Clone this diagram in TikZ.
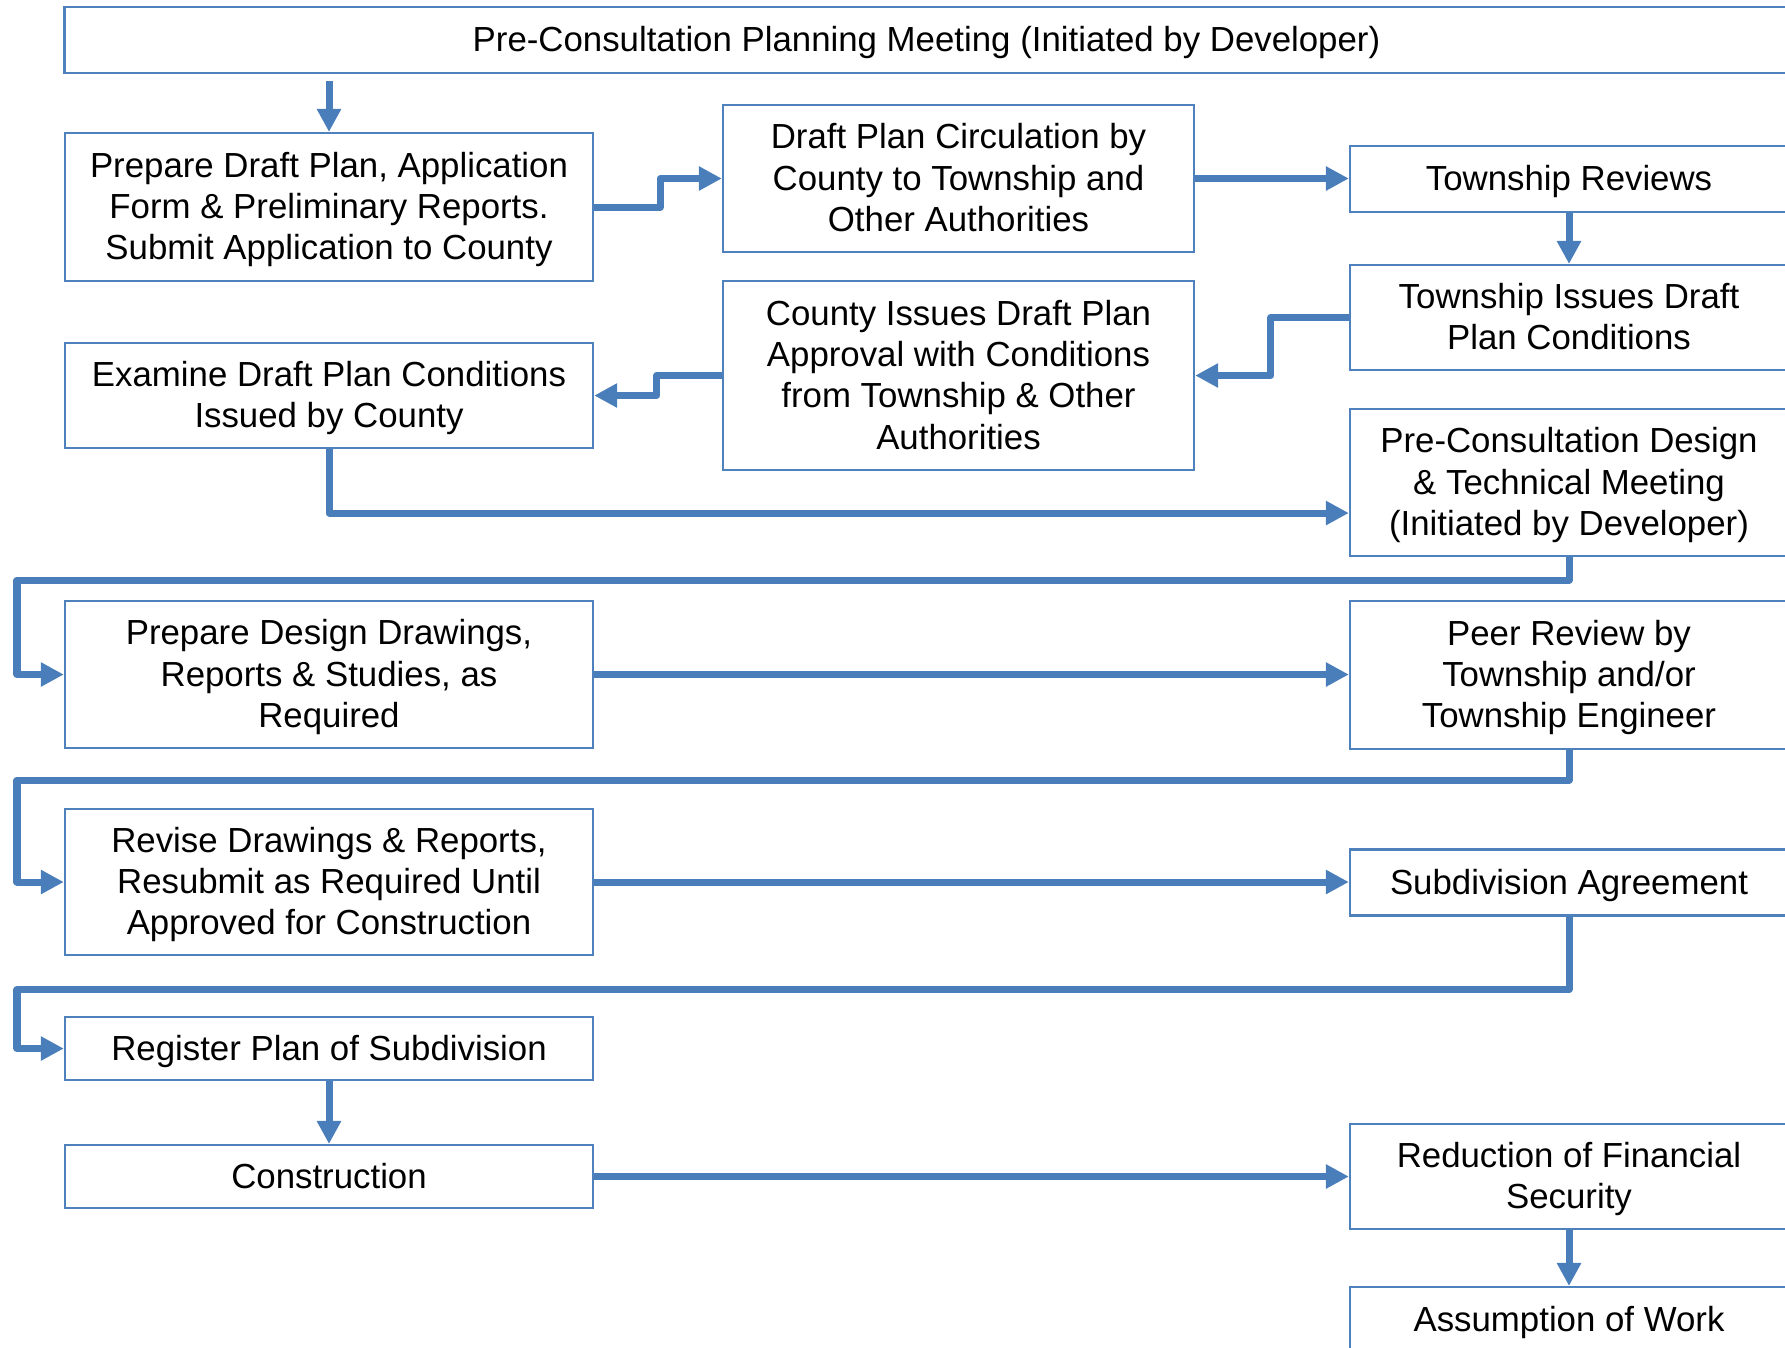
\documentclass[tikz,border=0pt]{standalone}
\usepackage{fontspec}
\setmainfont{Liberation Sans}
\usepackage{tikz}
\usetikzlibrary{arrows.meta,positioning}
\definecolor{flowblue}{RGB}{74,126,187}
\definecolor{boxblue}{RGB}{79,129,189}

\begin{document}
\begin{tikzpicture}[
        x=0.01cm, y=-0.01cm,
        stage/.style={
            rectangle,
            draw=boxblue,
            line width=0.6pt,
            fill=white,
            inner sep=0pt,
            align=flush center,
            font=\fontsize{9.9}{11.75}\selectfont,
            execute at begin node={\noindent\rule{0pt}{9pt}},
            execute at end node={\rule[-2.4pt]{0pt}{0pt}}
        },
        leftbox/.style={stage, minimum width=5.28cm, text width=5.08cm},
        midbox/.style={stage, minimum width=4.71cm, text width=4.51cm},
        rightbox/.style={stage, minimum width=4.38cm, text width=4.18cm},
        arrow/.style={
            ->,
            >={Triangle[length=0.23cm,width=0.23cm]},
            line width=0.07cm,
            line join=round,
            color=flowblue
        }
    ]
    \clip (0,0) rectangle (1785,1347);

    % Planning meeting (top)
    \node[stage, minimum width=17.23cm, text width=17cm, minimum height=0.66cm] (plan) at (926.5,40) {Pre-Consultation Planning Meeting (Initiated by Developer)};

    % Left column
    \node[leftbox, minimum height=1.48cm] (prep) at (329,207) {Prepare Draft Plan, Application\\Form \& Preliminary Reports.\\Submit Application to County};
    \node[leftbox, minimum height=1.05cm] (exam) at (329,395.5) {Examine Draft Plan Conditions\\Issued by County};
    \node[leftbox, minimum height=1.47cm] (drawings) at (329,674.5) {Prepare Design Drawings,\\Reports \& Studies, as\\Required};
    \node[leftbox, minimum height=1.46cm] (revise) at (329,882) {Revise Drawings \& Reports,\\Resubmit as Required Until\\Approved for Construction};
    \node[leftbox, minimum height=0.63cm] (register) at (329,1048.5) {Register Plan of Subdivision};
    \node[leftbox, minimum height=0.63cm] (build) at (329,1176.5) {Construction};

    % Middle column
    \node[midbox, minimum height=1.47cm] (circ) at (958.5,178.5) {Draft Plan Circulation by\\County to Township and\\Other Authorities};
    \node[midbox, minimum height=1.89cm] (approval) at (958.5,375.5) {County Issues Draft Plan\\Approval with Conditions\\from Township \& Other\\Authorities};

    % Right column
    \node[rightbox, minimum height=0.66cm] (review) at (1569,179) {Township Reviews};
    \node[rightbox, minimum height=1.05cm] (conds) at (1569,317.5) {Township Issues Draft\\Plan Conditions};
    \node[rightbox, minimum height=1.47cm] (design) at (1569,482.5) {Pre-Consultation Design\\\& Technical Meeting\\(Initiated by Developer)};
    \node[rightbox, minimum height=1.48cm] (peer) at (1569,675) {Peer Review by\\Township and/or\\Township Engineer};
    \node[rightbox, minimum height=0.66cm] (agree) at (1569,882.5) {Subdivision Agreement};
    \node[rightbox, minimum height=1.05cm] (security) at (1569,1176.5) {Reduction of Financial\\Security};
    \node[rightbox, minimum height=0.66cm] (assume) at (1569,1320) {Assumption of Work};

    % Return rail on the far left
    \coordinate (rail) at (17,0);

    % Arrows
    \draw[arrow, shorten <=0.07cm] (prep.north |- plan.south) -- (prep.north);
    \draw[arrow] (prep.east) -- ++(66,0) |- (circ.west);
    \draw[arrow] (circ.east) -- (circ.east -| review.west);
    \draw[arrow] (review.south) -- (conds.north);
    \draw[arrow] (conds.west) -- ++(-78,0) |- (approval.east);
    \draw[arrow] (approval.west) -- ++(-65,0) |- (exam.east);
    \draw[arrow] (exam.south) |- ([yshift=-0.305cm]design.west);
    \draw[arrow] (design.south) -- ++(0,23) -| (rail |- drawings.west) -- (drawings.west);
    \draw[arrow] (drawings.east) -- (drawings.east -| peer.west);
    \draw[arrow] (peer.south) -- ++(0,30) -| (rail |- revise.west) -- (revise.west);
    \draw[arrow] (revise.east) -- (revise.east -| agree.west);
    \draw[arrow] (agree.south) -- ++(0,73) -| (rail |- register.west) -- (register.west);
    \draw[arrow] (register.south) -- (build.north);
    \draw[arrow] (build.east) -- (build.east -| security.west);
    \draw[arrow] (security.south) -- (assume.north);

\end{tikzpicture}
\end{document}
